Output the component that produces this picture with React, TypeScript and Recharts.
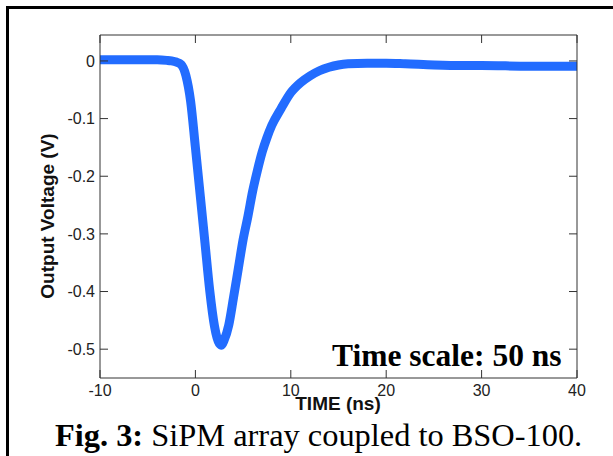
import { LineChart, Line, XAxis, YAxis } from 'recharts'

const TIME_NS = [
  -10, -8, -6, -4, -3, -2.5, -2, -1.5, -1, -0.5, 0, 0.5, 1, 1.5, 2, 2.5, 2.75,
  3, 3.5, 4, 4.5, 5, 5.5, 6, 6.5, 7, 7.5, 8, 9, 10, 11, 12, 13, 14, 15, 16,
  18, 20, 22, 25, 28, 30, 35, 40,
]
const OUTPUT_V = [
  0.002, 0.002, 0.002, 0.002, 0.001, 0.0, -0.002, -0.006, -0.025, -0.07, -0.15,
  -0.232, -0.315, -0.398, -0.46, -0.49, -0.493, -0.485, -0.458, -0.41, -0.36,
  -0.31, -0.27, -0.226, -0.19, -0.158, -0.133, -0.112, -0.082, -0.055, -0.038,
  -0.026, -0.017, -0.011, -0.007, -0.005, -0.004, -0.004, -0.005, -0.007,
  -0.008, -0.008, -0.009, -0.009,
]
const X_TICKS = [-10, 0, 10, 20, 30, 40]
const Y_TICKS = [0, -0.1, -0.2, -0.3, -0.4, -0.5]

const data = TIME_NS.map((t, i) => ({ t, v: OUTPUT_V[i] }))

const SANS = '"Liberation Sans", Arial, sans-serif'
const SERIF = '"Liberation Serif", "Times New Roman", serif'
const AXIS = '#333'

const fmtY = (v: number) => (v === 0 ? '0' : v.toFixed(1))

function XTick({ x, y, payload }: any) {
  return (
    <text x={x} y={y} dy="0.71em" textAnchor="middle" fontSize={16} fontFamily={SANS} fill="#222">
      {payload.value}
    </text>
  )
}

function YTick({ x, y, payload }: any) {
  return (
    <text x={x} y={y} dy="0.355em" textAnchor="end" fontSize={16} fontFamily={SANS} fill="#222">
      {fmtY(payload.value)}
    </text>
  )
}

export default function App() {
  return (
    <div style={{ position: 'absolute', left: 0, top: 0, width: 613, height: 456, overflow: 'hidden', background: '#fff' }}>
      <div style={{ position: 'absolute', left: 6, top: 6, width: 700, height: 600, borderLeft: '3px solid #000', borderTop: '3px solid #000' }} />
      <LineChart width={613} height={456} data={data} margin={{ top: 34, right: 35, bottom: 48, left: 40 }}>
        <XAxis
          xAxisId="b"
          dataKey="t"
          type="number"
          domain={[-10, 40]}
          ticks={X_TICKS}
          allowDataOverflow
          height={30}
          tickSize={-8}
          tickMargin={15}
          tick={<XTick />}
          stroke={AXIS}
        />
        <XAxis
          xAxisId="t"
          orientation="top"
          dataKey="t"
          type="number"
          domain={[-10, 40]}
          ticks={X_TICKS}
          allowDataOverflow
          height={1}
          tickSize={-8}
          tickFormatter={() => ''}
          stroke={AXIS}
        />
        <YAxis
          yAxisId="l"
          type="number"
          domain={[-0.55, 0.045]}
          ticks={Y_TICKS}
          allowDataOverflow
          width={60}
          tickSize={-8}
          tickMargin={13}
          tick={<YTick />}
          stroke={AXIS}
        />
        <YAxis
          yAxisId="r"
          orientation="right"
          type="number"
          domain={[-0.55, 0.045]}
          ticks={Y_TICKS}
          allowDataOverflow
          width={1}
          tickSize={-8}
          tickFormatter={() => ''}
          stroke={AXIS}
        />
        <Line
          xAxisId="b"
          yAxisId="l"
          dataKey="v"
          type="monotone"
          stroke="#226cff"
          strokeWidth={9}
          strokeLinecap="round"
          strokeLinejoin="round"
          dot={false}
          isAnimationActive={false}
        />
      </LineChart>
      <svg width={613} height={456} style={{ position: 'absolute', left: 0, top: 0, pointerEvents: 'none' }}>
        <text x={338} y={410} textAnchor="middle" fontFamily={SANS} fontWeight="bold" fontSize={19} fill="#111">
          TIME (ns)
        </text>
        <text
          x={0}
          y={0}
          transform="translate(54 216) rotate(-90)"
          textAnchor="middle"
          fontFamily={SANS}
          fontWeight="bold"
          fontSize={19}
          fill="#111"
        >
          Output Voltage (V)
        </text>
        <text x={332} y={366} fontFamily={SERIF} fontWeight="bold" fontSize={31.5} fill="#000">
          Time scale: 50 ns
        </text>
        <text x={55} y={446} fontFamily={SERIF} fontSize={32.4} fill="#000">
          <tspan fontWeight="bold">Fig. 3:</tspan> SiPM array coupled to BSO-100.
        </text>
      </svg>
    </div>
  )
}
